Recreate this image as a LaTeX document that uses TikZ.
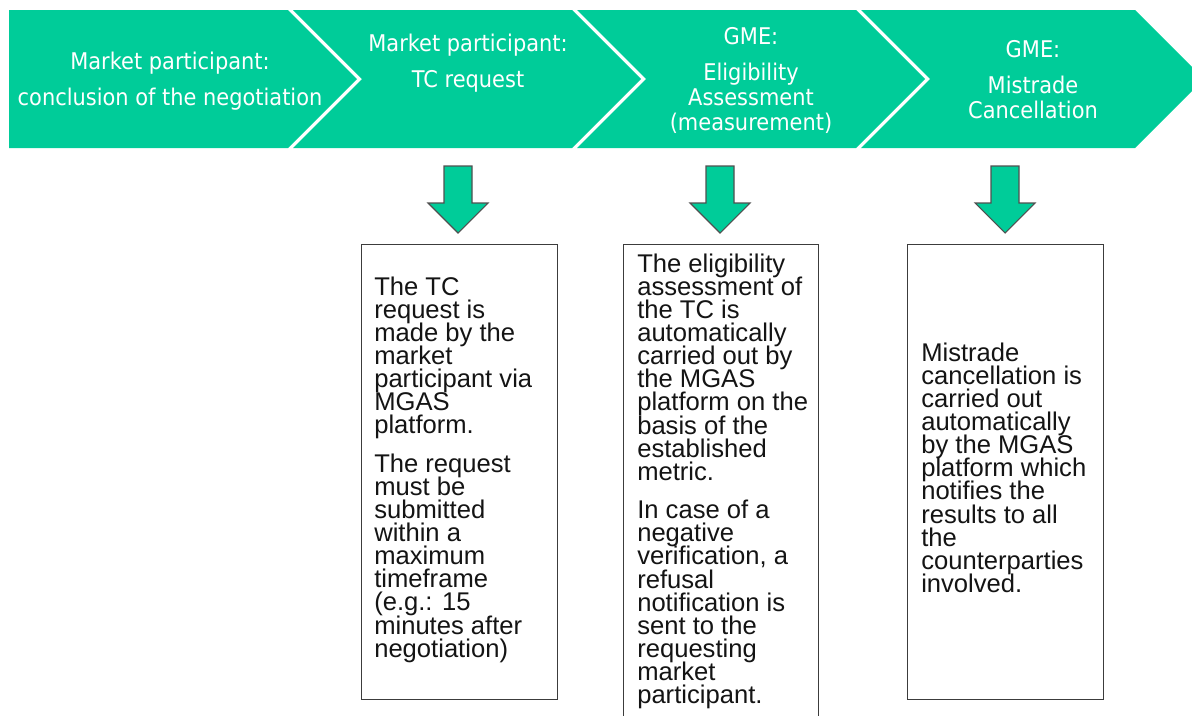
\documentclass[tikz,border=0pt]{standalone}
\usepackage{fontspec}
\setmainfont{Liberation Sans}
\newfontfamily\bannerfont{DejaVu Sans}[FakeStretch=0.91]
\usetikzlibrary{calc}
\definecolor{gmegreen}{RGB}{0,204,153}
\definecolor{boxline}{RGB}{60,60,60}
\definecolor{arrowline}{RGB}{80,80,80}
\definecolor{bodytext}{RGB}{20,20,20}
\newcommand{\tightlines}{\lineskiplimit=-100pt\relax\lineskip=0pt\relax}

\begin{document}
\begin{tikzpicture}[x=0.75pt,y=-0.75pt,
  chevron/.style={fill=gmegreen, draw=none},
  stage/.style={anchor=north, inner sep=0pt, align=center, text=white,
    font=\bannerfont\fontsize{17.25pt}{18.75pt}\selectfont\tightlines},
  infobox/.style={draw=boxline, line width=1pt, fill=white, inner sep=0pt, anchor=north west},
  infotext/.style={anchor=north west, inner sep=0pt, align=left, text=bodytext,
    font=\fontsize{19.2pt}{17.33pt}\selectfont\tightlines},
  downarrow/.style={fill=gmegreen, draw=arrowline, line width=0.8pt, line join=miter}
]
\useasboundingbox (0,0) rectangle (1192,715);

% process banner: four chevrons
\fill[chevron] (9,10) -- (288,10) -- (357,79) -- (288,148) -- (9,148) -- cycle;
\fill[chevron] (293,10) -- (572,10) -- (641,79) -- (572,148) -- (293,148) -- (362,79) -- cycle;
\fill[chevron] (577,10) -- (856,10) -- (925,79) -- (856,148) -- (577,148) -- (646,79) -- cycle;
\fill[chevron] (861,10) -- (1135,10) -- (1204,79) -- (1135,148) -- (861,148) -- (930,79) -- cycle;

% stage titles
\node[stage] (s1) at (170,50.3) {\rule{0pt}{14pt}Market participant:\\[8.25pt]conclusion of the negotiation};
\node[stage] (s2) at (468,32.3) {\rule{0pt}{14pt}Market participant:\\[8.25pt]TC request};
\node[stage] (s3) at (751,25.3) {\rule{0pt}{14pt}GME:\\[8.25pt]Eligibility\\Assessment\\(measurement)};
\node[stage] (s4) at (1033,38.3) {\rule{0pt}{14pt}GME:\\[8.25pt]Mistrade\\Cancellation};

% block arrows
\coordinate (a1) at (458,166);
\coordinate (a2) at (720,166);
\coordinate (a3) at (1005,166);
\foreach \a in {a1,a2,a3}
  \draw[downarrow] (\a) ++(-14,0) -- ++(28,0) -- ++(0,37) -- ++(16,0)
     -- ++(-30,30) -- ++(-30,-30) -- ++(16,0) -- cycle;

% description boxes
\node[infobox, minimum width=147pt, minimum height=341.25pt] (b1) at (361,244) {};
\node[infobox, minimum width=146.25pt, minimum height=367.5pt] (b2) at (623,244) {};
\node[infobox, minimum width=147pt, minimum height=341.25pt] (b3) at (907,244) {};

\node[infotext] (t1) at (374,275) {\rule{0pt}{15pt}The TC\\request is\\made by the\\market\\participant via\\MGAS\\platform.\\[11.5pt]The request\\must be\\submitted\\within a\\maximum\\timeframe\\(e.g.: 15\\minutes after\\negotiation)};
\node[infotext] (t2) at (637,252) {\rule{0pt}{15pt}The eligibility\\assessment of\\the TC is\\automatically\\carried out by\\the MGAS\\platform on the\\basis of the\\established\\metric.\\[11.5pt]In case of a\\negative\\verification, a\\refusal\\notification is\\sent to the\\requesting\\market\\participant.};
\node[infotext] (t3) at (921,341) {\rule{0pt}{15pt}Mistrade\\cancellation is\\carried out\\automatically\\by the MGAS\\platform which\\notifies the\\results to all\\the\\counterparties\\involved.};
\end{tikzpicture}
\end{document}
